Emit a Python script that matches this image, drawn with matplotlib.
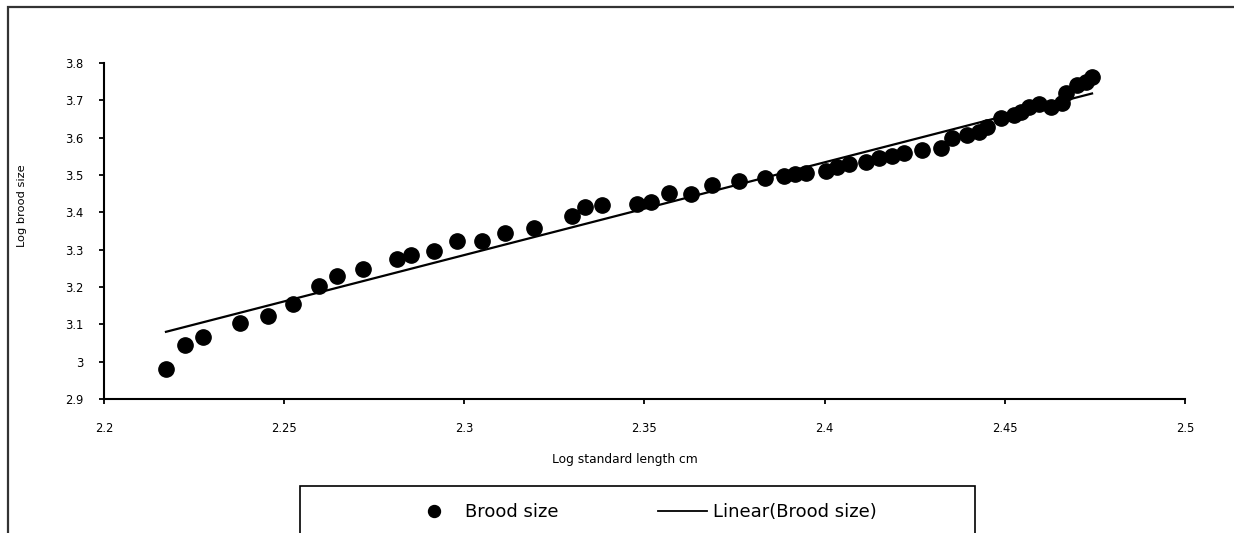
import numpy as np
import matplotlib
matplotlib.use("Agg")
import matplotlib.pyplot as plt
from matplotlib.patches import Rectangle
from matplotlib.lines import Line2D

# log standard length (cm) and log brood size
log_length = [2.2172, 2.2225, 2.2274, 2.2377, 2.2455, 2.2524, 2.2596, 2.2646, 2.2718,
              2.2812, 2.2851, 2.2915, 2.2981, 2.3048, 2.3112, 2.3192, 2.3298, 2.3336,
              2.3381, 2.3478, 2.3517, 2.3569, 2.3630, 2.3686, 2.3761, 2.3835, 2.3888,
              2.3919, 2.3949, 2.4005, 2.4035, 2.4068, 2.4116, 2.4152, 2.4188, 2.4221,
              2.4271, 2.4323, 2.4354, 2.4396, 2.4429, 2.4451, 2.4490, 2.4526, 2.4545,
              2.4567, 2.4595, 2.4628, 2.4659, 2.4670, 2.4700, 2.4725, 2.4742]
log_brood = [2.980, 3.045, 3.066, 3.104, 3.122, 3.154, 3.203, 3.229, 3.248,
             3.275, 3.286, 3.296, 3.323, 3.323, 3.345, 3.358, 3.390, 3.414,
             3.420, 3.422, 3.428, 3.452, 3.449, 3.473, 3.484, 3.492, 3.497,
             3.503, 3.505, 3.511, 3.521, 3.529, 3.535, 3.546, 3.551, 3.559,
             3.567, 3.572, 3.599, 3.607, 3.615, 3.629, 3.653, 3.661, 3.669,
             3.682, 3.690, 3.682, 3.693, 3.720, 3.741, 3.749, 3.763]

x_ticks = [2.2, 2.25, 2.3, 2.35, 2.4, 2.45, 2.5]
y_ticks = [2.9, 3.0, 3.1, 3.2, 3.3, 3.4, 3.5, 3.6, 3.7, 3.8]

plt.rcParams['font.family'] = ['DejaVu Sans']

fig = plt.figure(figsize=(12.34, 5.33), dpi=100)
W, H = 1234, 533
ax = fig.add_axes([104 / W, (H - 399) / H, (1185 - 104) / W, 336 / H])

x = np.array(log_length)
y = np.array(log_brood)
ax.plot(x, y, 'o', color='black', ms=11, mec='black', zorder=3)

# excel style linear trendline
k, b = np.polyfit(x, y, 1)
xl = np.array([x.min(), x.max()])
ax.plot(xl, k * xl + b, color='black', lw=1.6, zorder=2)

ax.set_xlim(2.2, 2.5)
ax.set_ylim(2.9, 3.8)
ax.set_xticks(x_ticks)
ax.set_yticks(y_ticks)
ax.set_xticklabels([f"{v:g}" for v in x_ticks])
ax.set_yticklabels([f"{v:g}" for v in y_ticks])
for s in ['top', 'right']:
    ax.spines[s].set_visible(False)
for s in ['left', 'bottom']:
    ax.spines[s].set_linewidth(1.5)
ax.tick_params(axis='both', direction='out', length=3.6, width=1.3, labelsize=8.3)
ax.tick_params(axis='y', pad=11)
ax.tick_params(axis='x', pad=13)

ax.set_ylabel("Log brood size", fontsize=8.2)
ax.yaxis.set_label_coords(-0.076, 0.574)
ax.set_xlabel("Log standard length cm", fontsize=8.8)
ax.xaxis.set_label_coords(0.482, -0.179)
ax.xaxis.label.set_va('center')
ax.yaxis.label.set_va('center')

# outer chart frame, runs off the right and bottom edges
fig.patches.append(Rectangle((8 / W, -0.1), 1.2, (H - 7) / H + 0.1, transform=fig.transFigure,
                             fill=False, ec='#333333', lw=1.6))
# legend box, cut off at the bottom
fig.patches.append(Rectangle((300 / W, -0.1), (975 - 300) / W, (H - 486) / H + 0.1,
                             transform=fig.transFigure, fill=False, ec='black', lw=1.2))

handles = [Line2D([], [], ls='none', marker='o', color='black', ms=8.6),
           Line2D([], [], color='black', lw=1.3)]
fig.legend(handles, ["Brood size", "Linear(Brood size)"], loc='center left',
           bbox_to_anchor=(401 / W, (H - 512) / H), ncol=2, frameon=False, borderpad=0,
           fontsize=13, handlelength=2.7, handletextpad=0.35, columnspacing=5.5)

fig.savefig("out.png", dpi=100)
